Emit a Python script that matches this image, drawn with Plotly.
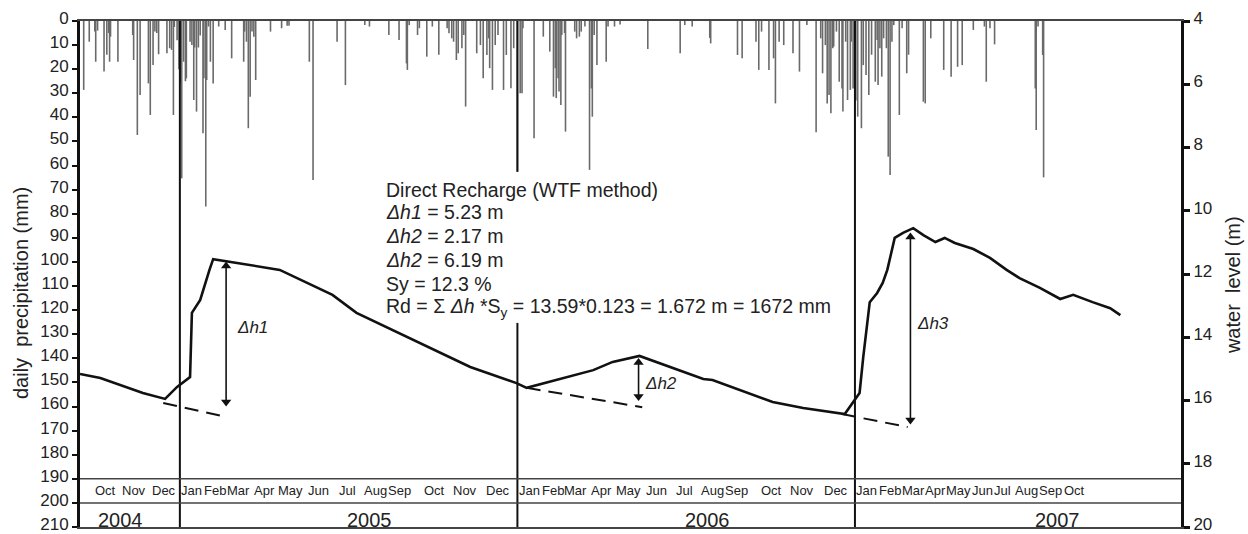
import plotly.graph_objects as go
import pandas as pd

# ---------------- data ----------------
level_dates = ["2004-09-15", "2004-10-07", "2004-11-22", "2004-12-16", "2004-12-29",
               "2005-01-12", "2005-01-14", "2005-01-23", "2005-02-02", "2005-02-06",
               "2005-04-19", "2005-06-15", "2005-07-11", "2005-09-18", "2005-11-11",
               "2005-12-31", "2006-01-11", "2006-03-24", "2006-04-14", "2006-05-13",
               "2006-06-26", "2006-07-21", "2006-07-31", "2006-08-30", "2006-10-04",
               "2006-11-06", "2006-12-16", "2006-12-21", "2007-01-06", "2007-01-10",
               "2007-01-17", "2007-01-25", "2007-01-31", "2007-02-05", "2007-02-13",
               "2007-02-22", "2007-03-05", "2007-03-16", "2007-03-29", "2007-04-08",
               "2007-04-19", "2007-05-09", "2007-05-27", "2007-06-14", "2007-06-28",
               "2007-07-20", "2007-08-11", "2007-08-25", "2007-09-15", "2007-10-04",
               "2007-10-15"]
level_m = [15.16, 15.29, 15.76, 15.95, 15.57,
           15.26, 13.23, 12.82, 11.87, 11.53,
           11.87, 12.66, 13.23, 14.18, 14.94,
           15.45, 15.60, 15.04, 14.78, 14.59,
           15.04, 15.32, 15.35, 15.67, 16.05,
           16.24, 16.40, 16.43, 15.76, 14.62,
           12.89, 12.60, 12.28, 11.87, 10.86,
           10.70, 10.55, 10.77, 10.99, 10.86,
           11.02, 11.21, 11.49, 11.87, 12.13,
           12.44, 12.79, 12.66, 12.89, 13.08,
           13.30]

# daily precipitation: day number counted from 2004-09-15, and amount (mm)
rain_start = "2004-09-15"
rain_day = [4, 10, 16, 17, 19, 26, 29, 31, 32, 33, 41, 57, 58, 62, 65, 74, 76, 79, 81, 83,
            85, 94, 97, 99, 101, 102, 105, 107, 108, 109, 110, 112, 114, 115, 119, 121, 123, 124, 126, 128,
            130, 133, 134, 136, 137, 139, 141, 144, 150, 157, 164, 177, 178, 180, 182, 184, 186, 188, 190, 206,
            218, 224, 226, 248, 252, 278, 287, 308, 313, 334, 345, 353, 354, 356, 365, 367, 375, 381, 388, 397,
            399, 402, 404, 407, 409, 413, 415, 417, 429, 433, 436, 440, 442, 443, 446, 449, 452, 458, 461, 466,
            469, 473, 476, 478, 479, 491, 501, 508, 512, 514, 515, 517, 518, 520, 521, 524, 525, 535, 537, 540,
            542, 546, 551, 553, 554, 556, 559, 569, 571, 578, 584, 614, 649, 654, 662, 681, 682, 711, 716, 731,
            734, 737, 745, 750, 752, 756, 761, 771, 778, 786, 796, 801, 803, 806, 808, 810, 812, 814, 815, 818,
            821, 824, 825, 828, 830, 833, 834, 836, 838, 839, 841, 845, 847, 850, 853, 856, 860, 862, 863, 865,
            867, 869, 872, 874, 876, 878, 880, 886, 889, 894, 896, 912, 914, 920, 934, 942, 949, 954, 966, 978,
            980, 984, 989, 1033, 1034, 1036, 1041, 1042]
rain_mm = [28.6, 8.6, 4.4, 16.9, 4, 21, 14, 5, 16.9, 6.5, 16.9, 5.8, 16.2, 47.3, 30.7, 25.9, 39, 18.3, 4.4, 5,
           13.8, 13.4, 11.3, 12, 39, 2.5, 8, 20, 26, 25, 65.3, 16.9, 25, 23.8, 8.6, 10, 32.8, 11, 37.6, 11,
           6, 46.6, 23.8, 77, 24.5, 2.3, 16.9, 25.9, 2.3, 3.7, 15.5, 16.9, 4.4, 8.6, 44.5, 31.4, 4.4, 6.5, 24.5, 4.4,
           3, 2, 2, 16.9, 66, 8.6, 26.6, 1.7, 2.3, 5.8, 7.9, 17.6, 20.3, 1.7, 5.8, 3, 14.8, 2.3, 14, 3,
           5.1, 7.2, 8.6, 16.2, 13.4, 11.3, 5.8, 35.5, 13.4, 10, 23.8, 14.1, 7.2, 19.6, 28.6, 10, 5.8, 28.6, 14.1, 27.9,
           11.3, 62.5, 30, 30, 3, 48.7, 6.5, 12.7, 31.4, 19.6, 32, 23.8, 29.3, 34.9, 5.8, 5, 45.9, 4.4, 7.2, 6.5,
           4.4, 2.3, 61.8, 28, 39.7, 5.8, 18.3, 16.9, 2.3, 2.3, 1.5, 11.6, 13.4, 1.7, 2.3, 7, 9.3, 14.1, 15.5, 8.6,
           20.3, 4.4, 20.3, 15.5, 34.2, 8.6, 10, 13.4, 21, 1.7, 46.2, 7.2, 21.7, 10, 34.2, 30.7, 38.3, 11.3, 10.6, 4.4,
           25.2, 28, 37.6, 8.6, 32.8, 28.6, 8.6, 28, 34, 33, 39.7, 44.5, 18.3, 22.4, 30.7, 14, 25.2, 7.9, 26.6, 11.3,
           23.1, 7.2, 11.3, 56.3, 63.9, 8.6, 1.7, 39, 3, 21.7, 14, 33.5, 34.2, 7.2, 20.3, 23.1, 19, 18.3, 3.7, 2.3,
           25.2, 3, 9.7, 28, 45.2, 2.3, 14.1, 64.9]

# extrapolated recession baselines (dashed) and water-table rises
base_start_dates = ["2004-12-14", "2006-01-11", "2006-12-18"]
base_start_m = [16.08, 15.60, 16.43]
base_end_dates = ["2005-02-20", "2006-05-16", "2007-02-27"]
base_end_m = [16.52, 16.21, 16.84]

rise_dates = ["2005-02-20", "2006-05-12", "2007-03-02"]
rise_top_m = [11.75, 14.80, 10.83]
rise_bottom_m = [16.05, 15.87, 16.62]
rise_labels = ["Δh1", "Δh2", "Δh3"]
rise_label_dates = ["2005-03-20", "2006-06-05", "2007-03-26"]
rise_label_m = [13.68, 15.45, 13.55]

year_starts = ["2005-01-01", "2006-01-01", "2007-01-01"]
year_labels = ["2004", "2005", "2006", "2007"]
year_label_dates = ["2004-10-29", "2005-07-25", "2006-07-26", "2007-08-08"]

month_labels = ["Oct", "Nov", "Dec",
                "Jan", "Feb", "Mar", "Apr", "May", "Jun", "Jul", "Aug", "Sep", "Oct", "Nov", "Dec",
                "Jan", "Feb", "Mar", "Apr", "May", "Jun", "Jul", "Aug", "Sep", "Oct", "Nov", "Dec",
                "Jan", "Feb", "Mar", "Apr", "May", "Jun", "Jul", "Aug", "Sep", "Oct"]
month_label_dates = ["2004-10-13", "2004-11-12", "2004-12-15",
                     "2005-01-14", "2005-02-08", "2005-03-05", "2005-04-02", "2005-05-01", "2005-05-31",
                     "2005-07-01", "2005-07-31", "2005-08-26", "2005-10-03", "2005-11-05", "2005-12-11",
                     "2006-01-14", "2006-02-08", "2006-03-05", "2006-04-02", "2006-05-01", "2006-05-31",
                     "2006-07-01", "2006-07-31", "2006-08-26", "2006-10-03", "2006-11-05", "2006-12-11",
                     "2007-01-14", "2007-02-08", "2007-03-05", "2007-03-29", "2007-04-23", "2007-05-19",
                     "2007-06-10", "2007-07-06", "2007-08-01", "2007-08-26"]

text_lines = ["Direct Recharge (WTF method)",
              "<i>Δh1</i> = 5.23 m",
              "<i>Δh2</i> = 2.17 m",
              "<i>Δh2</i> = 6.19 m",
              "Sy = 12.3 %",
              "Rd = Σ <i>Δh</i> *S<sub>y</sub> = 13.59*0.123 = 1.672 m = 1672 mm"]
text_line_mm = [70.1, 79.3, 89.2, 99.2, 109.1, 118.7]
text_date = "2005-08-10"

x_range = ["2004-09-15", "2007-12-19 14:00"]
FONT = "Liberation Sans, Arial, sans-serif"
INK = "#111111"
TXT = "#222222"

# ---------------- figure ----------------
fig = go.Figure()

start = pd.Timestamp(rain_start)
rx, ry = [], []
for d, v in zip(rain_day, rain_mm):
    t = (start + pd.Timedelta(days=d)).strftime("%Y-%m-%d")
    rx += [t, t, None]
    ry += [0, v, None]
fig.add_trace(go.Scatter(x=rx, y=ry, mode="lines", yaxis="y",
                         line=dict(color="#6a6a6a", width=1.6),
                         connectgaps=False, showlegend=False, hoverinfo="skip"))

fig.add_trace(go.Scatter(x=level_dates, y=level_m, mode="lines", yaxis="y2",
                         line=dict(color=INK, width=2.6), showlegend=False))

for sd, sm, ed, em in zip(base_start_dates, base_start_m, base_end_dates, base_end_m):
    fig.add_trace(go.Scatter(x=[sd, ed], y=[sm, em], mode="lines", yaxis="y2",
                             line=dict(color=INK, width=2, dash="14px,8px"),
                             showlegend=False))

# double-headed rise arrows
for d, top, bot in zip(rise_dates, rise_top_m, rise_bottom_m):
    fig.add_trace(go.Scatter(x=[d, d], y=[top, bot], mode="lines+markers", yaxis="y2",
                             line=dict(color=INK, width=1.6),
                             marker=dict(symbol=["triangle-up", "triangle-down"], size=9, color=INK),
                             showlegend=False, hoverinfo="skip"))

shapes = []
for i, ys in enumerate(year_starts):
    segs = [(0, 62.6), (125.3, 210)] if i == 1 else [(0, 210)]
    for a, b in segs:
        shapes.append(dict(type="line", xref="x", yref="y", x0=ys, x1=ys, y0=a, y1=b,
                           line=dict(color=INK, width=2)))
for yv in [190, 200]:
    shapes.append(dict(type="line", xref="paper", yref="y", x0=0, x1=1, y0=yv, y1=yv,
                       line=dict(color="#444444", width=1.5)))

ann = []
for lab, d, m in zip(rise_labels, rise_label_dates, rise_label_m):
    ann.append(dict(x=d, y=m, xref="x", yref="y2", text="<i>%s</i>" % lab, showarrow=False,
                    font=dict(family=FONT, size=17, color=TXT), xanchor="center", yanchor="middle"))
for t, m in zip(text_lines, text_line_mm):
    ann.append(dict(x=text_date, y=m, xref="x", yref="y", text=t, showarrow=False,
                    xanchor="left", yanchor="middle",
                    font=dict(family=FONT, size=19.5, color=TXT)))
for lab, d in zip(month_labels, month_label_dates):
    ann.append(dict(x=d, y=195, xref="x", yref="y", text=lab, showarrow=False,
                    xanchor="center", yanchor="middle",
                    font=dict(family=FONT, size=13, color=TXT)))
for lab, d in zip(year_labels, year_label_dates):
    ann.append(dict(x=d, y=207.2, xref="x", yref="y", text=lab, showarrow=False,
                    xanchor="center", yanchor="middle",
                    font=dict(family=FONT, size=20, color=TXT)))
ann.append(dict(x=0, xref="paper", xshift=-59, y=112.9, yref="y",
                text="daily\u00a0 precipitation (mm)", textangle=-90, showarrow=False,
                xanchor="center", yanchor="middle",
                font=dict(family=FONT, size=20, color=TXT)))
ann.append(dict(x=1, xref="paper", xshift=52, y=12.35, yref="y2",
                text="water\u00a0 level (m)", textangle=-90, showarrow=False,
                xanchor="center", yanchor="middle",
                font=dict(family=FONT, size=20, color=TXT)))

fig.update_layout(
    width=1248, height=534,
    margin=dict(l=80, r=67, t=21, b=7, autoexpand=False),
    paper_bgcolor="white", plot_bgcolor="white",
    showlegend=False,
    font=dict(family=FONT, color=TXT),
    xaxis=dict(type="date", range=x_range, showgrid=False, zeroline=False,
               showline=True, linecolor="#444444", linewidth=1.5, mirror=True,
               ticks="", showticklabels=False, automargin=False),
    yaxis=dict(range=[210, 0], tickvals=list(range(0, 211, 10)), showgrid=False, zeroline=False,
               showline=True, linecolor=INK, linewidth=3, ticks="outside", ticklen=5,
               tickwidth=2, tickcolor=INK, ticklabeloverflow="allow", automargin=False,
               ticklabelshift=3,
               tickfont=dict(family=FONT, size=17, color=TXT)),
    yaxis2=dict(range=[20, 4], tickvals=list(range(4, 21, 2)), overlaying="y", side="right",
                showgrid=False, zeroline=False, showline=True, linecolor=INK, linewidth=3,
                ticks="outside", ticklen=6, tickwidth=3, tickcolor=INK, ticklabeloverflow="allow",
                automargin=False, ticklabelshift=3,
                tickfont=dict(family=FONT, size=17, color=TXT)),
    shapes=shapes,
    annotations=ann,
)

fig.write_html("out.html")
